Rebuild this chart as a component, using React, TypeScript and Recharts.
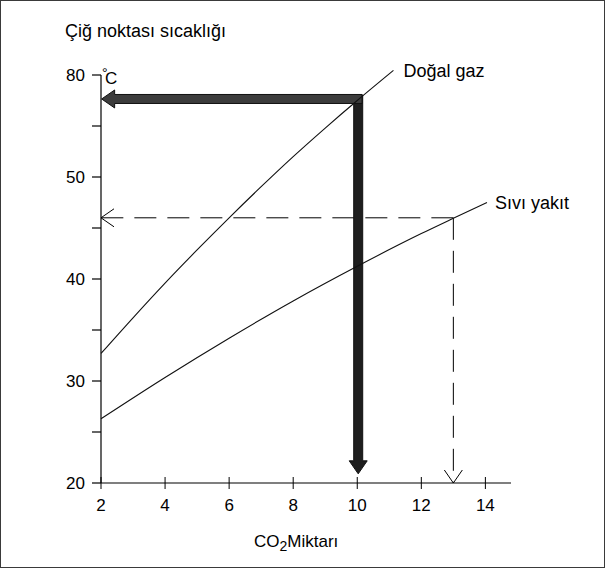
import { Label, Line, LineChart, ReferenceDot, ReferenceLine, XAxis, YAxis } from 'recharts'

const FONT = '"Liberation Sans", Arial, Helvetica, sans-serif'

const xTicks = [2, 4, 6, 8, 10, 12, 14]
const yTicks = [20, 25, 30, 35, 40, 45, 50, 55, 60]
const yTickLabels = ['20', '', '30', '', '40', '', '50', '', '80']

// Doğal gaz
const gasX = [2, 3, 4, 5, 6, 7, 8, 9, 10, 11.13]
const gasY = [32.7, 36.2, 39.6, 42.85, 46.0, 49.05, 52.0, 54.8, 57.5, 60.45]
// Sıvı yakıt
const oilX = [2, 4, 6, 8, 10, 12, 13, 14.05]
const oilY = [26.3, 30.35, 34.2, 37.85, 41.25, 44.45, 45.95, 47.5]

// reading for natural gas: 10 % CO2
const gasCO2 = 10.03
const gasDew = 57.65
// reading for liquid fuel: 13 % CO2 -> 46 °C
const oilCO2 = 13
const oilDew = 46

const gasData = gasX.map((x, i) => ({ x, y: gasY[i] }))
const oilData = oilX.map((x, i) => ({ x, y: oilY[i] }))

function thickArrow(fill: string) {
  return (p: any) => {
    const { x1, y1, x2, y2 } = p
    const len = Math.hypot(x2 - x1, y2 - y1) || 1
    const dx = (x2 - x1) / len
    const dy = (y2 - y1) / len
    const nx = -dy
    const ny = dx
    const w = 4.5
    const hw = 9
    const hl = 13
    const bx = x2 - dx * hl
    const by = y2 - dy * hl
    const pts = [
      [x1 + nx * w, y1 + ny * w],
      [bx + nx * w, by + ny * w],
      [bx + nx * hw, by + ny * hw],
      [x2, y2],
      [bx - nx * hw, by - ny * hw],
      [bx - nx * w, by - ny * w],
      [x1 - nx * w, y1 - ny * w],
    ]
    return <polygon points={pts.map((q) => q.join(',')).join(' ')} fill={fill} stroke="#111" strokeWidth={1} />
  }
}

const dashedArrow = (p: any) => {
  const { x1, y1, x2, y2 } = p
  const len = Math.hypot(x2 - x1, y2 - y1) || 1
  const dx = (x2 - x1) / len
  const dy = (y2 - y1) / len
  const nx = -dy
  const ny = dx
  const hl = 13
  const hw = 9
  const bx = x2 - dx * hl
  const by = y2 - dy * hl
  return (
    <g>
      <line x1={x1} y1={y1} x2={x2} y2={y2} stroke="#000" strokeWidth={1} strokeDasharray="22 11" />
      <polyline
        points={`${bx + nx * hw},${by + ny * hw} ${x2},${y2} ${bx - nx * hw},${by - ny * hw}`}
        fill="none"
        stroke="#000"
        strokeWidth={1}
      />
    </g>
  )
}

const XTick = (p: any) => (
  <g>
    <line x1={p.x} x2={p.x} y1={p.y - 6} y2={p.y + 6} stroke="#000" />
    <text x={p.x} y={p.y + 28} textAnchor="middle" fontSize={17} fontFamily={FONT} fill="#000">
      {p.payload.value}
    </text>
  </g>
)

export default function App() {
  return (
    <div style={{ position: 'absolute', left: 0, top: 0, width: 606, height: 571, background: '#fff' }}>
      <div
        style={{
          position: 'absolute',
          left: 0,
          top: 0,
          width: 605,
          height: 568,
          border: '1.5px solid #3a3a3a',
          boxSizing: 'border-box',
        }}
      />
      <div style={{ position: 'absolute', left: 0, top: 0 }}>
        <LineChart width={606} height={571} margin={{ top: 64.8, right: 95, left: 41, bottom: 48 }}>
          <XAxis
            type="number"
            dataKey="x"
            domain={[2, 14.8]}
            ticks={xTicks}
            interval={0}
            height={40}
            tickSize={0}
            tickMargin={0}
            tickLine={false}
            axisLine={{ stroke: '#000', strokeWidth: 1.2 }}
            tick={<XTick />}
          >
            <Label
              content={(p: any) => {
                const vb = p.viewBox
                return (
                  <text x={vb.x + 153} y={vb.y + 64} fontSize={17} fontFamily={FONT} fill="#000">
                    CO
                    <tspan dy={4} fontSize={14}>
                      2
                    </tspan>
                    <tspan dy={-4}>Miktarı</tspan>
                  </text>
                )
              }}
            />
          </XAxis>
          <YAxis
            type="number"
            dataKey="y"
            domain={[20, 61]}
            ticks={yTicks}
            interval={0}
            width={60}
            axisLine={false}
            tickSize={9}
            tickMargin={7}
            tickLine={{ stroke: '#000', strokeWidth: 1.2 }}
            tick={{ fill: '#000', fontSize: 17, fontFamily: FONT }}
            tickFormatter={(v: number) => yTickLabels[yTicks.indexOf(v)] ?? ''}
          >
            <Label
              content={(p: any) => {
                const vb = p.viewBox
                const ax = vb.x + vb.width
                return (
                  <g>
                    <text x={ax - 36} y={vb.y - 28} fontSize={18} fontFamily={FONT} fill="#000">
                      Çiğ noktası sıcaklığı
                    </text>
                    <text x={ax + 1} y={vb.y + 13} fontSize={14} fontFamily={FONT} fill="#000">
                      °
                      <tspan dx={-2.5} dy={6} fontSize={17}>
                        C
                      </tspan>
                    </text>
                  </g>
                )
              }}
            />
          </YAxis>

          <ReferenceLine
            segment={[
              { x: 2, y: 20 },
              { x: 2, y: 60 },
            ]}
            stroke="#000"
            strokeWidth={1.2}
          />

          <ReferenceLine
            zIndex={50}
            segment={[
              { x: oilCO2, y: oilDew },
              { x: 2, y: oilDew },
            ]}
            shape={dashedArrow}
          />
          <ReferenceLine
            zIndex={50}
            segment={[
              { x: oilCO2, y: oilDew },
              { x: oilCO2, y: 20 },
            ]}
            shape={dashedArrow}
          />
          <ReferenceLine
            zIndex={50}
            segment={[
              { x: gasCO2, y: 58.04 },
              { x: gasCO2, y: 20.9 },
            ]}
            shape={thickArrow('#1e1e1e')}
          />
          <ReferenceLine
            zIndex={50}
            segment={[
              { x: 10.15, y: gasDew },
              { x: 2.02, y: gasDew },
            ]}
            shape={thickArrow('#3c3c3c')}
          />

          <Line
            data={gasData}
            dataKey="y"
            type="monotone"
            stroke="#111"
            strokeWidth={1.1}
            dot={false}
            isAnimationActive={false}
          />
          <Line
            data={oilData}
            dataKey="y"
            type="monotone"
            stroke="#111"
            strokeWidth={1.1}
            dot={false}
            isAnimationActive={false}
          />

          <ReferenceDot
            x={gasX[gasX.length - 1]}
            y={gasY[gasY.length - 1]}
            r={0}
            fill="none"
            stroke="none"
            label={{ value: 'Doğal gaz', position: 'right', offset: 10, fontSize: 18, fill: '#000', fontFamily: FONT }}
          />
          <ReferenceDot
            x={oilX[oilX.length - 1]}
            y={oilY[oilY.length - 1]}
            r={0}
            fill="none"
            stroke="none"
            label={{ value: 'Sıvı yakıt', position: 'right', offset: 8, fontSize: 18, fill: '#000', fontFamily: FONT }}
          />
        </LineChart>
      </div>
    </div>
  )
}
